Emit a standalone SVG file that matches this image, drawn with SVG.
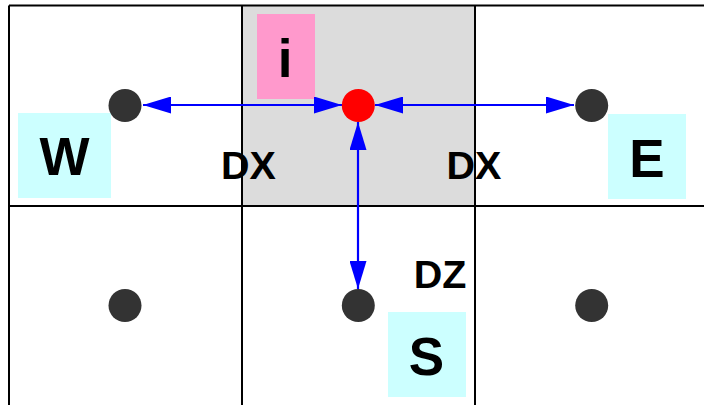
<svg xmlns="http://www.w3.org/2000/svg" width="704" height="405" viewBox="0 0 704 405">
<style>
.grid{stroke:#000;stroke-width:2;fill:none}
.dot{fill:#333333}
.lbl{font-family:"Liberation Sans",Arial,sans-serif;font-weight:bold;fill:#000;text-anchor:middle}
.big{font-size:53px}
.dim{font-size:39.5px}
.arr{stroke:#0000ff;stroke-width:2.2;fill:none;marker-start:url(#ah);marker-end:url(#ah)}
</style>
<defs>
<marker id="ah" viewBox="0 0 28 17" refX="28" refY="8.5" markerWidth="28" markerHeight="17" markerUnits="userSpaceOnUse" orient="auto-start-reverse">
<path d="M0,0 L28,8.5 L0,17 Z" fill="#0000ff"/>
</marker>
</defs>
<rect width="704" height="405" fill="#fff"/>
<g id="cell-i-bg"><rect x="242" y="5.5" width="233" height="200.5" fill="#dcdcdc"/></g>
<g id="grid">
<line class="grid" x1="9" y1="5.5" x2="710" y2="5.5"/>
<line class="grid" x1="9" y1="206" x2="710" y2="206"/>
<line class="grid" x1="9" y1="5.5" x2="9" y2="410"/>
<line class="grid" x1="242" y1="5.5" x2="242" y2="410"/>
<line class="grid" x1="475" y1="5.5" x2="475" y2="410"/>
</g>
<g id="label-i"><rect x="257" y="14" width="58" height="85" fill="#ff99cc"/><text class="lbl big" x="285" y="77">i</text></g>
<g id="label-W"><rect x="18" y="113" width="93" height="85" fill="#ccffff"/><text class="lbl big" x="64.5" y="174.5">W</text></g>
<g id="label-E"><rect x="608" y="114" width="78" height="85" fill="#ccffff"/><text class="lbl big" x="647" y="177">E</text></g>
<g id="label-S"><rect x="388" y="312" width="78" height="85" fill="#ccffff"/><text class="lbl big" x="426.5" y="375">S</text></g>
<g id="connectors">
<line class="arr" x1="143" y1="105" x2="342" y2="105"/>
<line class="arr" x1="375" y1="105" x2="574" y2="105"/>
<line class="arr" x1="358" y1="122" x2="358" y2="289"/>
</g>
<g id="node-W"><circle class="dot" cx="125" cy="105.5" r="16.5"/></g>
<g id="node-P"><circle cx="358.3" cy="105.5" r="16.5" fill="#ff0000"/></g>
<g id="node-E"><circle class="dot" cx="591.7" cy="105.5" r="16.5"/></g>
<g id="node-SW"><circle class="dot" cx="125" cy="305.5" r="16.5"/></g>
<g id="node-S"><circle class="dot" cx="358.3" cy="305.5" r="16.5"/></g>
<g id="node-SE"><circle class="dot" cx="591.7" cy="305.5" r="16.5"/></g>
<g id="dims">
<text class="lbl dim" x="248.5" y="178.5">DX</text>
<text class="lbl dim" x="474" y="178.5">DX</text>
<text class="lbl dim" x="440" y="288">DZ</text>
</g>
</svg>
